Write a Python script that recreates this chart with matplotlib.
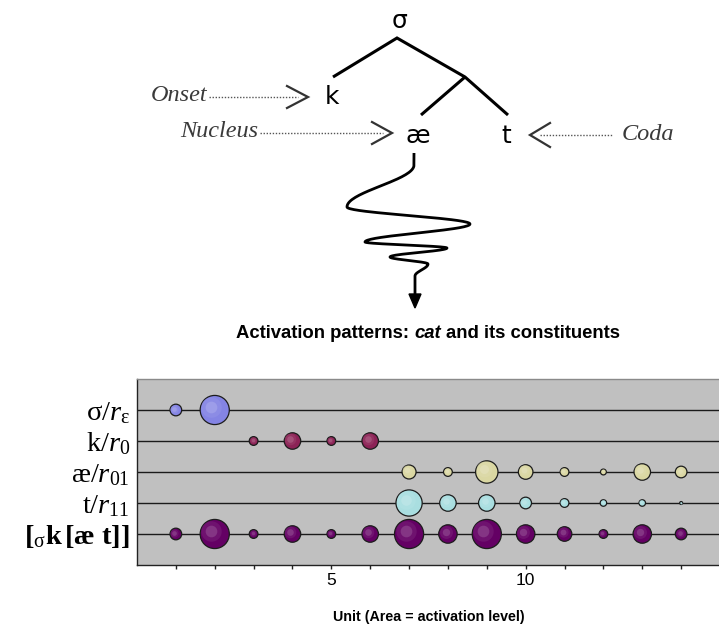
import numpy as np
import matplotlib
matplotlib.use("Agg")
import matplotlib.pyplot as plt
import matplotlib.transforms as mtransforms
from matplotlib.colors import to_rgb
from matplotlib.offsetbox import TextArea, HPacker, AnchoredOffsetbox

plt.rcParams['font.family'] = ['Liberation Sans', 'DejaVu Sans']
plt.rcParams['mathtext.fontset'] = 'custom'
plt.rcParams['mathtext.rm'] = 'Liberation Serif'
plt.rcParams['mathtext.it'] = 'Liberation Serif:italic'
plt.rcParams['mathtext.bf'] = 'Liberation Serif:bold'

# unit index and activation level (bubble area) for each representation
units_sigma = [1, 2]
act_sigma = [0.16, 1.0]
units_k = [3, 4, 5, 6]
act_k = [0.09, 0.32, 0.09, 0.32]
units_ae = [7, 8, 9, 10, 11, 12, 13, 14]
act_ae = [0.23, 0.09, 0.59, 0.25, 0.09, 0.04, 0.32, 0.16]
units_t = [7, 8, 9, 10, 11, 12, 13, 14]
act_t = [0.81, 0.32, 0.32, 0.16, 0.09, 0.05, 0.05, 0.01]
units_cat = list(range(1, 15))
act_cat = [0.16, 1.0, 0.09, 0.32, 0.09, 0.32, 1.0, 0.40, 1.0, 0.40, 0.25, 0.09, 0.40, 0.16]

row_labels = [
    r'$\mathrm{σ}/r_{\mathrm{ε}}$',
    r'$\mathrm{k}/r_{0}$',
    r'$\mathrm{æ}/r_{01}$',
    r'$\mathrm{t}/r_{11}$',
    r'$\mathbf{[}_{\mathrm{σ}}\mathbf{k\,[æ\ t]]}$',
]
row_units = [units_sigma, units_k, units_ae, units_t, units_cat]
row_acts = [act_sigma, act_k, act_ae, act_t, act_cat]
row_colors = ['#8484E4', '#8C2256', '#DAD7A2', '#A9DEE0', '#640064']
row_y = [5, 4, 3, 2, 1]

W, H = 719, 624
fig = plt.figure(figsize=(W / 100, H / 100), dpi=100)

# ---------------- bubble chart ----------------
ax = fig.add_axes([137 / W, (H - 565) / H, (720 - 137) / W, (565 - 379) / H])
ax.set_facecolor('#C0C0C0')
ax.set_xlim(0, 15)
ax.set_ylim(0, 6)

SCALE = 440  # points^2 per unit of activation


def lighten(c, f):
    r, g, b = to_rgb(c)
    return (r + (1 - r) * f, g + (1 - g) * f, b + (1 - b) * f)


for y, xs, acts, col in zip(row_y, row_units, row_acts, row_colors):
    ax.axhline(y, color='#1a1a1a', lw=1.0, zorder=1)
    sizes = np.array(acts) * SCALE
    ax.scatter(xs, [y] * len(xs), s=sizes, color=col, edgecolors='#1c1c1c',
               linewidths=0.9, zorder=3)
    # soft highlight to give the bubbles a bit of depth
    for x, s in zip(xs, sizes):
        d = np.sqrt(s)
        for frac, mix, al in [(0.7, 0.12, 0.6), (0.4, 0.3, 0.6)]:
            tr = mtransforms.offset_copy(ax.transData, fig=fig,
                                         x=-0.12 * d, y=0.12 * d, units='points')
            ax.plot(x, y, 'o', ms=d * frac, color=lighten(col, mix), alpha=al,
                    mec='none', transform=tr, zorder=4)

ax.set_yticks(row_y)
ax.set_yticklabels(row_labels, fontsize=20.5)
ax.tick_params(axis='y', length=0, pad=5)

ax.set_xticks([5, 10])
ax.set_xticks(range(1, 15), minor=True)
ax.tick_params(axis='x', which='both', direction='out', length=3, width=1,
               color='#222222', pad=3, labelsize=12.5)

for side in ['left', 'bottom']:
    ax.spines[side].set_color('#222222')
    ax.spines[side].set_linewidth(1.0)
ax.spines['top'].set_color('#8a8a8a')
ax.spines['top'].set_linewidth(1.0)
ax.spines['right'].set_visible(False)

fig.text(429 / W, 1 - 617 / H, 'Unit (Area = activation level)',
         fontsize=10.3, fontweight='bold', ha='center', va='center')

# title with italic "cat"
tsize = 13.3
parts = [TextArea('Activation patterns:', textprops=dict(fontsize=tsize, fontweight='bold')),
         TextArea('cat', textprops=dict(fontsize=tsize, fontweight='bold', fontstyle='italic')),
         TextArea('and its constituents', textprops=dict(fontsize=tsize, fontweight='bold'))]
pack = HPacker(children=parts, align='baseline', pad=0, sep=tsize * 0.28)
title_box = AnchoredOffsetbox(loc='center', child=pack, pad=0, borderpad=0, frameon=False,
                              bbox_to_anchor=(428 / W, 1 - 333 / H),
                              bbox_transform=fig.transFigure)
fig.add_artist(title_box)

# ---------------- syllable tree (pixel coordinates) ----------------
at = fig.add_axes([0, 0, 1, 1])
at.set_xlim(0, W)
at.set_ylim(H, 0)
at.axis('off')

lw_tree = 2.2
at.plot([333, 397, 465, 508], [77, 38, 77, 115], color='k', lw=lw_tree,
        solid_capstyle='butt', solid_joinstyle='miter')
at.plot([465, 421], [77, 115], color='k', lw=lw_tree, solid_capstyle='butt')

seg_font = dict(fontsize=18, family='DejaVu Sans', ha='center', va='baseline', color='k')
at.text(400, 28, 'σ', **seg_font)
at.text(332, 104, 'k', **seg_font)
at.text(418, 143, 'æ', **seg_font)
at.text(506, 143, 't', **seg_font)

lab_font = dict(fontsize=17.5, family='Liberation Serif', fontstyle='italic',
                color='#3a3a3a', va='baseline')
at.text(207, 101, 'Onset', ha='right', **lab_font)
at.text(258, 137, 'Nucleus', ha='right', **lab_font)
at.text(622, 140, 'Coda', ha='left', **lab_font)

dot = dict(color='#555555', lw=1.0, dashes=(1, 1.2))
at.plot([209, 298], [97, 97], **dot)
at.plot([260, 383], [133, 133], **dot)
at.plot([540, 613], [135, 135], **dot)

chev = dict(color='#333333', lw=1.6, solid_joinstyle='miter')
at.plot([287, 308, 287], [86, 97, 108], **chev)
at.plot([372, 392, 372], [122, 133, 144], **chev)
at.plot([550, 530, 550], [123, 135, 147], **chev)

# squiggle from the nucleus down to the chart
turns = [(414, 165), (347, 207), (470, 224), (365, 242), (447, 248),
         (390, 257), (428, 264), (415, 276)]
sx, sy = [414.0], [153.0]
for (x0, y0), (x1, y1) in zip(turns[:-1], turns[1:]):
    t = np.linspace(0, 1, 40)
    sx.extend(x0 + (x1 - x0) * (1 - np.cos(np.pi * t)) / 2)
    sy.extend(y0 + (y1 - y0) * t)
sx.append(415)
sy.append(296)
at.plot(sx, sy, color='k', lw=2.0, solid_capstyle='butt')
at.fill([409, 421, 415], [294, 294, 308], color='k')

fig.savefig('out.png', dpi=100)
